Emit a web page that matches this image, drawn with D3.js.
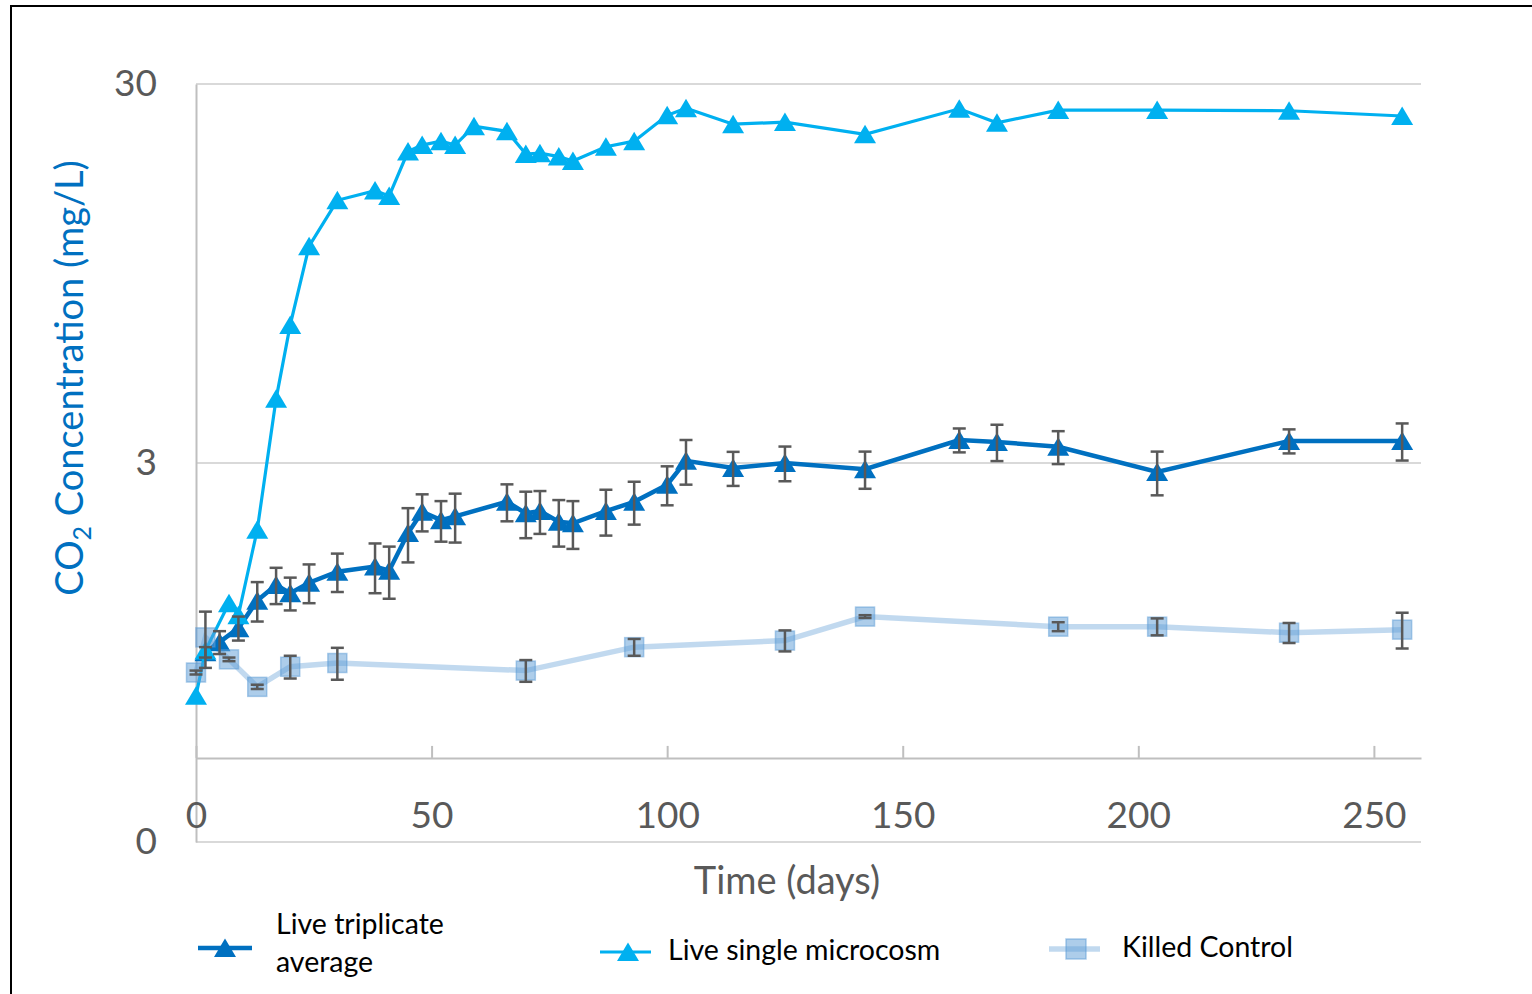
<!DOCTYPE html>
<html>
<head>
<meta charset="utf-8">
<script src="https://cdn.jsdelivr.net/npm/d3@7"></script>
<style>
  body { margin: 0; background: #fff; }
  svg { display: block; font-family: Lato, "Open Sans", sans-serif; }
</style>
</head>
<body>
<svg id="chart" width="1532" height="994"></svg>
<script>
// days and CO2 (mg/L)
var singleDays = [0, 2, 7, 9, 13, 17, 20, 24, 30, 38, 41, 45, 48, 52, 55, 59, 66, 70, 73, 77, 80, 87, 93, 100, 104, 114, 125, 142, 162, 170, 183, 204, 232, 256];
var singleVals = [0.73, 0.96, 1.28, 1.19, 2.0, 4.43, 6.94, 11.2, 14.8, 15.7, 15.2, 19.9, 20.7, 21.2, 20.7, 23.2, 22.5, 19.6, 19.7, 19.3, 18.8, 20.5, 21.2, 24.8, 25.9, 23.5, 23.8, 22.1, 25.8, 23.7, 25.6, 25.6, 25.5, 24.7];

var tripDays = [2, 5, 9, 13, 17, 20, 24, 30, 38, 41, 45, 48, 52, 55, 66, 70, 73, 77, 80, 87, 93, 100, 104, 114, 125, 142, 162, 170, 183, 204, 232, 256];
var tripVals = [0.95, 1.01, 1.10, 1.30, 1.43, 1.36, 1.45, 1.55, 1.60, 1.56, 1.96, 2.23, 2.12, 2.17, 2.37, 2.21, 2.24, 2.10, 2.08, 2.24, 2.37, 2.63, 3.04, 2.91, 3.0, 2.89, 3.45, 3.41, 3.31, 2.84, 3.43, 3.43];
var tripErr = [0.03, 0.07, 0.08, 0.155, 0.157, 0.135, 0.17, 0.18, 0.24, 0.245, 0.32, 0.25, 0.26, 0.32, 0.265, 0.31, 0.29, 0.295, 0.30, 0.31, 0.307, 0.31, 0.41, 0.30, 0.315, 0.325, 0.25, 0.375, 0.33, 0.375, 0.25, 0.385];

var killDays = [0, 2, 7, 13, 20, 30, 70, 93, 125, 142, 183, 204, 232, 256];
var killVals = [0.84, 1.04, 0.91, 0.77, 0.87, 0.89, 0.85, 0.98, 1.02, 1.18, 1.11, 1.11, 1.07, 1.09];
var killErr = [0.01, 0.176, 0.01, 0.01, 0.06, 0.086, 0.056, 0.05, 0.065, 0.01, 0.03, 0.057, 0.065, 0.118];

var xTicks = [0, 50, 100, 150, 200, 250];
var yTicks = [0.3, 3, 30];
var legendNames = ['Live triplicate average', 'Live single microcosm', 'Killed Control'];

var svg = d3.select('#chart');
var x = d3.scaleLinear().domain([0, 260]).range([196, 1421]);
var y = d3.scaleLog().domain([0.3, 30]).range([842, 84]);

// outer frame
svg.append('rect').attr('x', 11).attr('y', 6).attr('width', 1560).attr('height', 1020)
  .attr('fill', 'none').attr('stroke', '#000').attr('stroke-width', 2);

// gridlines
svg.append('g').selectAll('line').data(yTicks).enter().append('line')
  .attr('x1', x(0)).attr('x2', x(260))
  .attr('y1', function(d) { return y(d); }).attr('y2', function(d) { return y(d); })
  .attr('stroke', '#d9d9d9').attr('stroke-width', 2);

// y axis
var yAxis = svg.append('g').attr('transform', 'translate(' + x(0) + ',0)')
  .call(d3.axisLeft(y).tickValues(yTicks).tickFormat(d3.format('.0f')).tickSize(0).tickPadding(39));
yAxis.select('.domain').attr('stroke', '#bfbfbf').attr('stroke-width', 2);
yAxis.selectAll('text').attr('font-size', 37).attr('fill', '#595959').attr('font-family', 'Lato, sans-serif');

// x axis crosses at 0.5
var xAxis = svg.append('g').attr('transform', 'translate(0,' + y(0.5) + ')')
  .call(d3.axisBottom(x).tickValues(xTicks).tickSize(-12).tickSizeOuter(0).tickPadding(44));
xAxis.select('.domain').attr('stroke', '#bfbfbf').attr('stroke-width', 2);
xAxis.selectAll('.tick line').attr('stroke', '#bfbfbf').attr('stroke-width', 2);
xAxis.selectAll('text').attr('font-size', 37).attr('fill', '#595959').attr('font-family', 'Lato, sans-serif');

// axis titles
svg.append('text').attr('x', 787).attr('y', 894).attr('text-anchor', 'middle')
  .attr('font-size', 38).attr('fill', '#595959').text('Time (days)');

var yt = svg.append('text').attr('transform', 'translate(83,378) rotate(-90)')
  .attr('text-anchor', 'middle').attr('font-size', 38).attr('fill', '#0070C0');
yt.append('tspan').text('CO');
yt.append('tspan').attr('font-size', 25).attr('dy', 8).text('2');
yt.append('tspan').attr('dy', -8).text(' Concentration (mg/L)');

var tri = 'M0,-9.5L11,9L-11,9Z';

function pts(days, vals, errs) {
  return days.map(function(d, i) { return { d: d, v: vals[i], e: errs ? errs[i] : 0 }; });
}
var trip = pts(tripDays, tripVals, tripErr);
var single = pts(singleDays, singleVals);
var kill = pts(killDays, killVals, killErr);

var line = d3.line().x(function(p) { return x(p.d); }).y(function(p) { return y(p.v); });

// killed control line (faint)
svg.append('path').datum(kill).attr('d', line).attr('fill', 'none')
  .attr('stroke', '#5B9BD5').attr('stroke-opacity', 0.38).attr('stroke-width', 5.5);

// live triplicate
svg.append('path').datum(trip).attr('d', line).attr('fill', 'none')
  .attr('stroke', '#0070C0').attr('stroke-width', 4.5);
svg.append('g').selectAll('path').data(trip).enter().append('path')
  .attr('d', tri).attr('fill', '#0070C0')
  .attr('transform', function(p) { return 'translate(' + x(p.d) + ',' + y(p.v) + ')'; });

// live single
svg.append('path').datum(single).attr('d', line).attr('fill', 'none')
  .attr('stroke', '#00B0F0').attr('stroke-width', 3.2);
svg.append('g').selectAll('path').data(single).enter().append('path')
  .attr('d', tri).attr('fill', '#00B0F0')
  .attr('transform', function(p) { return 'translate(' + x(p.d) + ',' + y(p.v) + ')'; });

// killed squares
svg.append('g').selectAll('rect').data(kill).enter().append('rect')
  .attr('x', function(p) { return x(p.d) - 9.5; }).attr('y', function(p) { return y(p.v) - 9.5; })
  .attr('width', 19).attr('height', 19)
  .attr('fill', '#5B9BD5').attr('fill-opacity', 0.5)
  .attr('stroke', '#5B9BD5').attr('stroke-opacity', 0.5).attr('stroke-width', 1.5);

// error bars
function errorBars(data) {
  var g = svg.append('g').attr('stroke', '#595959').attr('stroke-width', 2.5);
  data.forEach(function(p) {
    var cx = x(p.d), t = y(p.v + p.e), b = y(p.v - p.e);
    g.append('line').attr('x1', cx).attr('x2', cx).attr('y1', t).attr('y2', b);
    g.append('line').attr('x1', cx - 6.5).attr('x2', cx + 6.5).attr('y1', t).attr('y2', t);
    g.append('line').attr('x1', cx - 6.5).attr('x2', cx + 6.5).attr('y1', b).attr('y2', b);
  });
}
errorBars(trip);
errorBars(kill);

// legend
var lg = svg.append('g').attr('font-size', 28.5).attr('fill', '#000');
lg.append('line').attr('x1', 198).attr('x2', 252).attr('y1', 948).attr('y2', 948)
  .attr('stroke', '#0070C0').attr('stroke-width', 4.5);
lg.append('path').attr('d', tri).attr('fill', '#0070C0').attr('transform', 'translate(225,948)');
lg.append('text').attr('x', 276).attr('y', 934).text('Live triplicate');
lg.append('text').attr('x', 276).attr('y', 972).text('average');

lg.append('line').attr('x1', 600).attr('x2', 651).attr('y1', 952).attr('y2', 952)
  .attr('stroke', '#00B0F0').attr('stroke-width', 3.2);
lg.append('path').attr('d', tri).attr('fill', '#00B0F0').attr('transform', 'translate(628,952)');
lg.append('text').attr('x', 668).attr('y', 960).text(legendNames[1]);

lg.append('line').attr('x1', 1049).attr('x2', 1100).attr('y1', 949).attr('y2', 949)
  .attr('stroke', '#5B9BD5').attr('stroke-opacity', 0.38).attr('stroke-width', 5.5);
lg.append('rect').attr('x', 1066).attr('y', 939).attr('width', 20).attr('height', 20)
  .attr('fill', '#5B9BD5').attr('fill-opacity', 0.5)
  .attr('stroke', '#5B9BD5').attr('stroke-opacity', 0.5).attr('stroke-width', 1.5);
lg.append('text').attr('x', 1122).attr('y', 957).text(legendNames[2]);
</script>
</body>
</html>
